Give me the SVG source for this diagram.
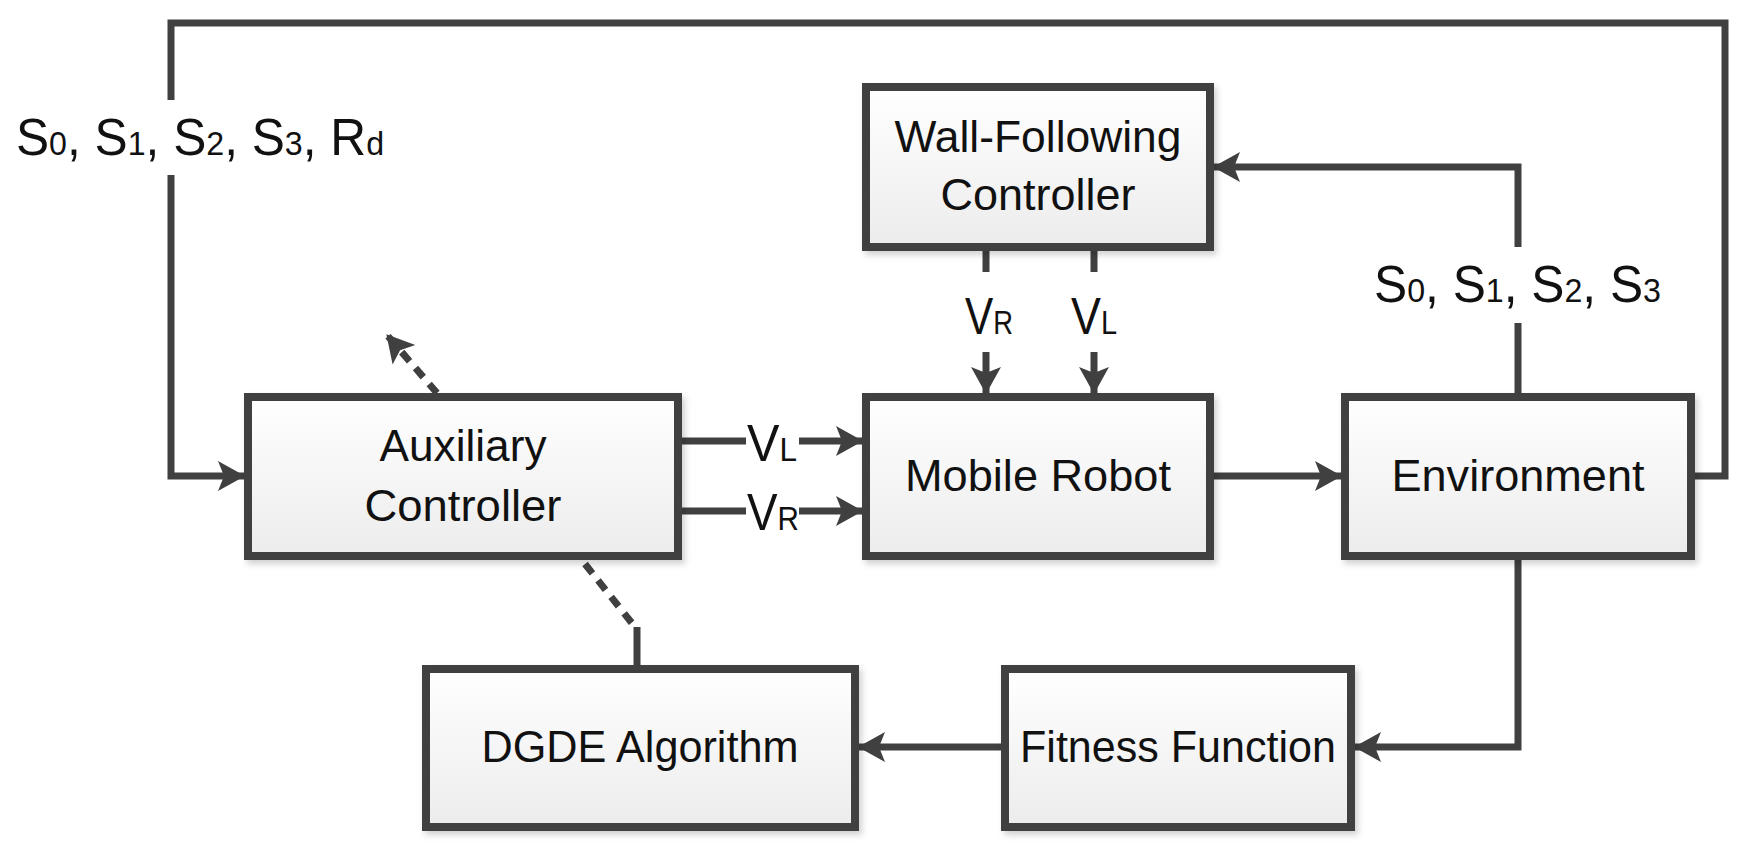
<svg xmlns="http://www.w3.org/2000/svg" width="1746" height="848" viewBox="0 0 1746 848">
<defs>
<linearGradient id="g" x1="0" y1="0" x2="0" y2="1"><stop offset="0" stop-color="#ffffff"/><stop offset="1" stop-color="#ececec"/></linearGradient>
<filter id="sh" x="-5%" y="-5%" width="115%" height="120%"><feDropShadow dx="3" dy="4" stdDeviation="3" flood-color="#000" flood-opacity="0.18"/></filter>
<marker id="ah" markerUnits="userSpaceOnUse" markerWidth="28" markerHeight="32" refX="26" refY="16" orient="auto"><path d="M0,1 L27,16 L0,31 L6,16 z" fill="#404040"/></marker>
</defs>
<style>
.box{fill:url(#g);stroke:#404040;stroke-width:8;filter:url(#sh)}
.t{font-family:"Liberation Sans",Arial,sans-serif;font-size:44px;fill:#111;text-anchor:middle}
.l{font-family:"Liberation Sans",Arial,sans-serif;font-size:51px;fill:#111}
.s{font-size:33px}
.c{fill:none;stroke:#404040;stroke-width:7}
.a{marker-end:url(#ah)}
.d{stroke-dasharray:12 9}
</style>
<g id="connectors">
<path class="c" d="M171,100 V23 H1725 V476 H1691"/>
<path class="c a" d="M171,175 V476 H244"/>
<path class="c a" d="M1518,247 V167 H1214"/>
<path class="c" d="M1518,323 V397"/>
<path class="c" d="M986,247 V272 M1094,247 V272"/>
<path class="c a" d="M986,352 V393"/>
<path class="c a" d="M1094,352 V393"/>
<path class="c" d="M678,441 H746 M678,511 H746"/>
<path class="c a" d="M799,441 H862"/>
<path class="c a" d="M799,511 H862"/>
<path class="c a" d="M1210,476 H1341"/>
<path class="c a" d="M1518,555 V747 H1355"/>
<path class="c a" d="M1005,747 H859"/>
<path class="c d a" d="M437,393 L387,335"/>
<path class="c d" d="M585,564 L635,627"/>
<path class="c" d="M637,627 V669"/>
</g>
<g id="wall"><rect class="box" x="866" y="87" width="344" height="160"/><text class="t" x="1038" y="152" textLength="287" lengthAdjust="spacingAndGlyphs">Wall-Following</text><text class="t" x="1038" y="210" textLength="195" lengthAdjust="spacingAndGlyphs">Controller</text></g>
<g id="aux"><rect class="box" x="248" y="397" width="430" height="159"/><text class="t" x="463" y="461" textLength="167" lengthAdjust="spacingAndGlyphs">Auxiliary</text><text class="t" x="463" y="521" textLength="197" lengthAdjust="spacingAndGlyphs">Controller</text></g>
<g id="robot"><rect class="box" x="866" y="397" width="344" height="159"/><text class="t" x="1038" y="491" textLength="266" lengthAdjust="spacingAndGlyphs">Mobile Robot</text></g>
<g id="env"><rect class="box" x="1345" y="397" width="346" height="159"/><text class="t" x="1518" y="491" textLength="253" lengthAdjust="spacingAndGlyphs">Environment</text></g>
<g id="dgde"><rect class="box" x="426" y="669" width="429" height="158"/><text class="t" x="640" y="762" textLength="317" lengthAdjust="spacingAndGlyphs">DGDE Algorithm</text></g>
<g id="fit"><rect class="box" x="1005" y="669" width="346" height="158"/><text class="t" x="1178" y="762" textLength="316" lengthAdjust="spacingAndGlyphs">Fitness Function</text></g>
<g id="labels">
<text class="l" x="16" y="155" textLength="368" lengthAdjust="spacingAndGlyphs">S<tspan class="s">0</tspan>, S<tspan class="s">1</tspan>, S<tspan class="s">2</tspan>, S<tspan class="s">3</tspan>, R<tspan class="s">d</tspan></text>
<text class="l" x="1374" y="302" textLength="287" lengthAdjust="spacingAndGlyphs">S<tspan class="s">0</tspan>, S<tspan class="s">1</tspan>, S<tspan class="s">2</tspan>, S<tspan class="s">3</tspan></text>
<text class="l" x="965" y="334" textLength="48" lengthAdjust="spacingAndGlyphs">V<tspan class="s">R</tspan></text>
<text class="l" x="1071" y="334" textLength="46" lengthAdjust="spacingAndGlyphs">V<tspan class="s">L</tspan></text>
<text class="l" x="747" y="461" textLength="50" lengthAdjust="spacingAndGlyphs">V<tspan class="s">L</tspan></text>
<text class="l" x="747" y="530" textLength="52" lengthAdjust="spacingAndGlyphs">V<tspan class="s">R</tspan></text>
</g>
</svg>
